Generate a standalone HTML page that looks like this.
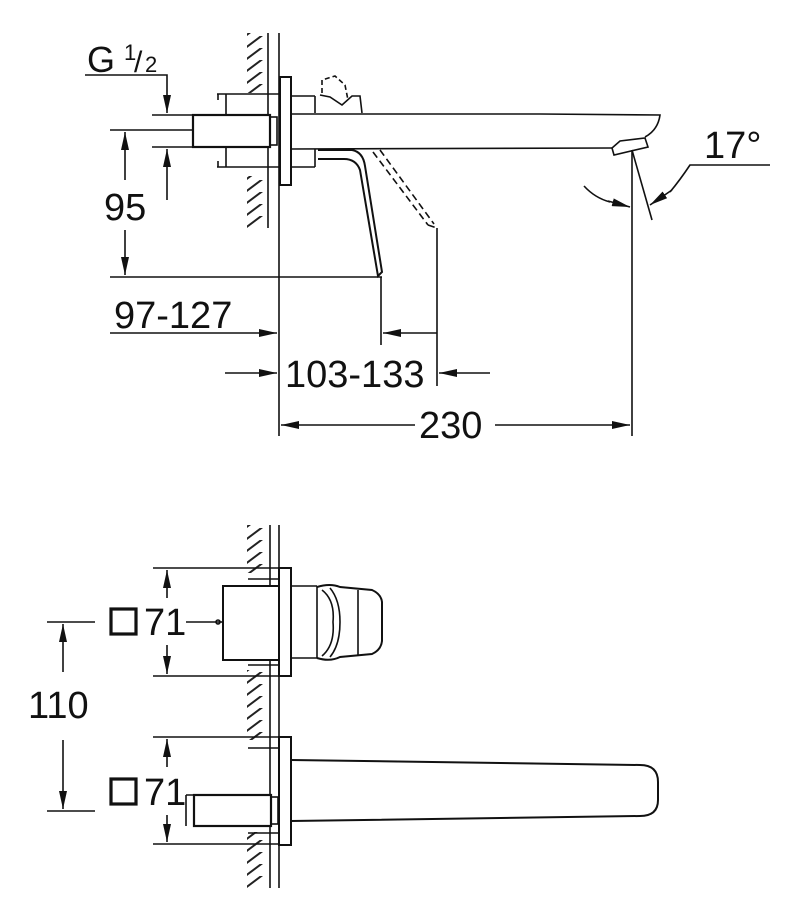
<!DOCTYPE html>
<html><head><meta charset="utf-8"><style>
body{margin:0;background:#fff}
svg{display:block}
text{font-family:"Liberation Sans",sans-serif;fill:#111}
</style></head><body>
<svg width="800" height="908" viewBox="0 0 800 908" xmlns="http://www.w3.org/2000/svg">
<defs>
<marker id="a" viewBox="0 0 10 10" preserveAspectRatio="none" refX="10" refY="5" markerWidth="18" markerHeight="8" orient="auto-start-reverse" markerUnits="userSpaceOnUse"><path d="M0,0 L10,5 L0,10 z" fill="#111"/></marker>
<pattern id="h" width="30" height="12" patternUnits="userSpaceOnUse" y="0"><path d="M0,16 L24,-2 M-2,4 L2,1" stroke="#222" stroke-width="2" fill="none"/></pattern>
</defs>
<g stroke="#111" stroke-width="1.6" fill="none">
<rect x="247" y="33" width="23" height="60" fill="url(#h)" stroke="none"/>
<rect x="247" y="176" width="23" height="52" fill="url(#h)" stroke="none"/>
<line x1="268" y1="33" x2="268" y2="228"/>
<line x1="279" y1="33" x2="279" y2="436"/>
<rect x="280" y="77" width="11" height="108" fill="#fff" stroke-width="2"/>
<path d="M217 94 H279 M217 167 H279 M218 94 V100 M218 161 V167 M226 94 V167"/>
<rect x="193" y="115" width="77" height="32" fill="#fff" stroke-width="2.2"/>
<rect x="270" y="117" width="7" height="28"/>
<path d="M291 96 H315 M291 167 H315 M315 96 V113 M315 149 V167"/>
<path d="M320 95 L330 97 L342 105 L352 96 L360 96 L362 113" />
<path d="M322 93 L322 80 L335 76 L345 85 L348 100" stroke-dasharray="5,3"/>
<path d="M291 114 L540 114 L660 115 Q658 130 645 137"/>
<path d="M291 149 L612 148"/>
<path d="M612 148 L614 155 L648 147 L645 138 L620 141 Z" fill="#fff"/>
<path d="M318 150 L352 150 Q363 152 365 166 L382 272 L378 276 L360 170 Q356 159 344 159 L318 159" stroke-width="2"/>
<path d="M373 152 L428 225 M380 150 L434 224 M428 225 L437 228" stroke-dasharray="7,4"/>
<line x1="437" y1="228" x2="437" y2="386"/>
<line x1="381" y1="277" x2="381" y2="345"/>
<line x1="632" y1="150" x2="632" y2="436"/>
<line x1="632" y1="150" x2="652" y2="220"/>
<path d="M85 75 H167 V113" marker-end="url(#a)"/>
<path d="M152 115 H193 M152 147 H193 M110 130 H193"/>
<line x1="167" y1="200" x2="167" y2="149" marker-end="url(#a)"/>
<line x1="125" y1="180" x2="125" y2="132" marker-end="url(#a)"/>
<line x1="125" y1="230" x2="125" y2="275" marker-end="url(#a)"/>
<line x1="110" y1="277" x2="382" y2="277"/>
<line x1="110" y1="333" x2="277" y2="333" marker-end="url(#a)"/>
<line x1="437" y1="333" x2="383" y2="333" marker-end="url(#a)"/>
<line x1="225" y1="373" x2="277" y2="373" marker-end="url(#a)"/>
<line x1="490" y1="373" x2="439" y2="373" marker-end="url(#a)"/>
<line x1="415" y1="425" x2="281" y2="425" marker-end="url(#a)"/>
<line x1="495" y1="425" x2="630" y2="425" marker-end="url(#a)"/>
<path d="M770 165 H690 Q680 180 670 192" />
<line x1="672" y1="190" x2="650" y2="205" marker-end="url(#a)"/>
<path d="M584 186 Q595 198 610 202"/>
<line x1="608" y1="201" x2="630" y2="207" marker-end="url(#a)"/>

<rect x="247" y="525" width="23" height="48" fill="url(#h)" stroke="none"/>
<rect x="247" y="670" width="23" height="70" fill="url(#h)" stroke="none"/>
<rect x="247" y="832" width="23" height="56" fill="url(#h)" stroke="none"/>
<line x1="270" y1="525" x2="270" y2="888"/>
<line x1="279" y1="525" x2="279" y2="888"/>
<rect x="279" y="568" width="12" height="108" fill="#fff" stroke-width="2"/>
<rect x="279" y="737" width="12" height="108" fill="#fff" stroke-width="2"/>
<path d="M248 579 H279 M248 665 H279 M248 748 H279 M248 833 H279"/>
<rect x="223" y="586" width="56" height="74" fill="#fff" stroke-width="2"/>
<path d="M218 622 H223"/>
<circle cx="218" cy="622" r="2"/>
<path d="M291 586 H317 M291 658 H317 M317 586 V658"/>
<path d="M317 587 Q330 583 340 587 L372 590 Q381 594 382 602 L382 641 Q381 650 372 654 L340 657 Q330 662 317 658" stroke-width="2"/>
<path d="M322 590 Q335 600 333 622 Q335 645 322 656 M330 588 Q340 600 340 622 Q340 645 330 657 M358 590 V656"/>
<rect x="194" y="795" width="77" height="31" fill="#fff" stroke-width="2.2"/>
<rect x="271" y="797" width="7" height="27"/>
<path d="M291 760 L640 765 Q658 765 658 782 L658 800 Q658 816 640 816 L291 821" stroke-width="2"/>
<path d="M153 568 H279 M153 676 H279 M153 737 H279 M153 844 H279"/>
<line x1="167" y1="598" x2="167" y2="570" marker-end="url(#a)"/>
<line x1="167" y1="645" x2="167" y2="674" marker-end="url(#a)"/>
<line x1="167" y1="767" x2="167" y2="739" marker-end="url(#a)"/>
<line x1="167" y1="815" x2="167" y2="842" marker-end="url(#a)"/>
<path d="M186 622 H218 M186 795 H194"/>
<path d="M186 795 V826"/>
<path d="M47 622 H95 M47 811 H95"/>
<line x1="63" y1="672" x2="63" y2="624" marker-end="url(#a)"/>
<line x1="63" y1="740" x2="63" y2="809" marker-end="url(#a)"/>
<rect x="111" y="609" width="25" height="25" stroke-width="3.2"/>
<rect x="111" y="779" width="25" height="25" stroke-width="3.2"/>
</g>
<text x="87" y="72" font-size="36">G</text>
<text x="124" y="60" font-size="22">1</text>
<text x="134" y="72" font-size="30">/</text>
<text x="145" y="72" font-size="22">2</text>
<text x="104" y="220" font-size="38">95</text>
<text x="114" y="328" font-size="38">97-127</text>
<text x="285" y="387" font-size="38">103-133</text>
<text x="419" y="438" font-size="38">230</text>
<text x="704" y="158" font-size="38">17°</text>
<text x="144" y="635" font-size="38">71</text>
<text x="144" y="805" font-size="38">71</text>
<text x="28" y="718" font-size="38">110</text>
</svg>
</body></html>
